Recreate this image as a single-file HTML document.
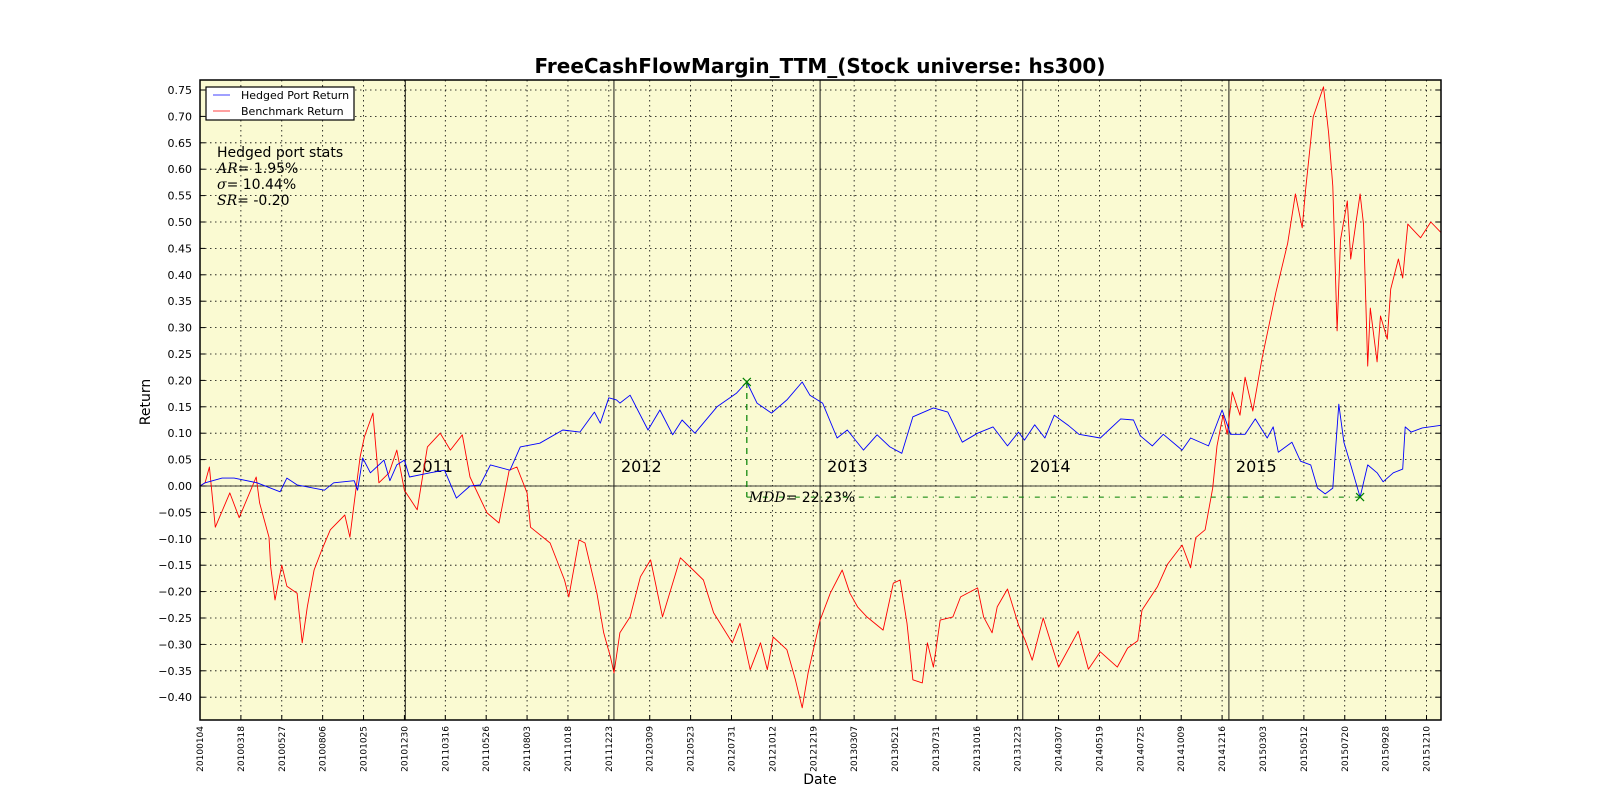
<!DOCTYPE html>
<html><head><meta charset="utf-8"><style>
html,body{margin:0;padding:0;background:#fff;}
svg{display:block;font-family:"DejaVu Sans","Liberation Sans",sans-serif;}
</style></head><body>
<svg id="chart" width="1600" height="800" viewBox="0 0 1600 800" xmlns="http://www.w3.org/2000/svg">
<rect x="0" y="0" width="1600" height="800" fill="#fff"/>
<rect x="200" y="80" width="1241" height="640" fill="#fafad2"/>
<g id="grid"></g>
<g id="yearlines"></g>
<g id="series"></g>
<g id="mdd"></g>
<rect x="200" y="80" width="1241" height="640" fill="none" stroke="#000" stroke-width="1.5"/>
<g id="ticks"></g>
<text x="820" y="73" text-anchor="middle" font-size="20" font-weight="bold">FreeCashFlowMargin_TTM_(Stock universe: hs300)</text>
<text transform="translate(150,402) rotate(-90)" text-anchor="middle" font-size="14">Return</text>
<text x="820" y="784" text-anchor="middle" font-size="14">Date</text>
<g>
<rect x="206" y="87" width="148" height="33" fill="#fff" stroke="#000" stroke-width="1.2"/>
<line x1="213" y1="95" x2="230" y2="95" stroke="#0000ff" stroke-width="0.8"/>
<text x="241" y="99" font-size="11">Hedged Port Return</text>
<line x1="213" y1="111" x2="230" y2="111" stroke="#ff0000" stroke-width="0.8"/>
<text x="241" y="115" font-size="11">Benchmark Return</text>
</g>
<g font-size="14">
<text x="217" y="157">Hedged port stats</text>
<text x="217" y="173"><tspan font-family="DejaVu Serif,serif" font-style="italic">AR</tspan><tspan font-family="DejaVu Serif,serif">= </tspan> 1.95%</text>
<text x="217" y="189"><tspan font-family="DejaVu Serif,serif" font-style="italic">σ</tspan><tspan font-family="DejaVu Serif,serif">= </tspan>10.44%</text>
<text x="217" y="205"><tspan font-family="DejaVu Serif,serif" font-style="italic">SR</tspan><tspan font-family="DejaVu Serif,serif">= </tspan>-0.20</text>
</g>
</svg>
<script>
const tickDates=["20100104","20100318","20100527","20100806","20101025","20101230","20110316","20110526","20110803","20111018","20111223","20120309","20120523","20120731","20121012","20121219","20130307","20130521","20130731","20131016","20131223","20140307","20140519","20140725","20141009","20141216","20150303","20150512","20150720","20150928","20151210"];
const yTicks=[-0.40,-0.35,-0.30,-0.25,-0.20,-0.15,-0.10,-0.05,0.00,0.05,0.10,0.15,0.20,0.25,0.30,0.35,0.40,0.45,0.50,0.55,0.60,0.65,0.70,0.75];
const yearLabels=["2011","2012","2013","2014","2015"];
const yearDays=[241,486,728,966,1208];
const redDays=[0,6,11,18,35,46,66,70,81,83,88,96,102,114,120,126,134,143,153,170,176,181,188,193,203,210,222,231,240,255,267,282,294,308,317,337,351,363,372,384,388,411,428,433,445,452,466,474,482,486,493,505,517,529,543,564,579,591,603,625,634,646,658,666,673,689,699,707,714,728,740,754,763,772,783,802,814,822,830,837,848,854,861,869,884,893,913,920,930,936,948,961,969,977,990,1008,1031,1043,1057,1077,1089,1101,1106,1124,1136,1153,1163,1169,1180,1189,1194,1201,1206,1212,1221,1227,1236,1247,1263,1277,1286,1294,1298,1307,1319,1325,1330,1335,1339,1347,1351,1362,1366,1371,1374,1382,1386,1394,1398,1407,1412,1418,1422,1433,1445,1457];
const redVals=[0,.006,.036,-.078,-.013,-.06,.017,-.032,-.097,-.153,-.216,-.15,-.19,-.203,-.297,-.229,-.159,-.121,-.083,-.055,-.097,-.032,.055,.093,.138,.006,.025,.068,-.008,-.045,.074,.1,.068,.097,.017,-.051,-.07,.03,.036,-.013,-.078,-.108,-.178,-.21,-.102,-.108,-.203,-.278,-.324,-.354,-.278,-.248,-.172,-.14,-.248,-.136,-.159,-.178,-.24,-.297,-.26,-.348,-.297,-.348,-.286,-.31,-.367,-.42,-.354,-.254,-.203,-.159,-.203,-.229,-.248,-.273,-.184,-.178,-.26,-.367,-.373,-.297,-.343,-.254,-.248,-.21,-.193,-.248,-.278,-.229,-.195,-.263,-.293,-.33,-.25,-.343,-.275,-.347,-.314,-.343,-.307,-.293,-.235,-.191,-.148,-.112,-.155,-.098,-.083,-.004,.076,.134,.098,.178,.134,.206,.142,.242,.366,.46,.553,.489,.561,.699,.756,.669,.568,.294,.466,.54,.43,.553,.496,.227,.337,.235,.322,.278,.373,.43,.394,.496,.489,.47,.50,.48];
const blueDays=[0,6,26,40,67,94,102,114,146,157,181,185,191,200,216,223,231,240,246,270,287,301,317,329,341,364,376,399,426,446,463,470,480,489,493,505,526,540,555,566,581,607,630,642,654,671,689,707,716,731,748,760,779,795,810,824,837,861,878,895,913,931,948,961,968,980,992,1003,1020,1032,1057,1081,1096,1104,1118,1131,1153,1163,1184,1200,1210,1227,1239,1253,1260,1266,1282,1292,1304,1312,1321,1330,1337,1343,1351,1362,1371,1382,1389,1401,1412,1415,1422,1435,1457];
const blueVals=[0,.006,.015,.015,.006,-.011,.015,.002,-.008,.006,.01,-.008,.053,.025,.049,.01,.04,.049,.017,.025,.03,-.023,0,.002,.04,.03,.074,.081,.106,.102,.14,.119,.167,.163,.157,.172,.106,.144,.097,.125,.1,.15,.176,.197,.157,.138,.163,.197,.172,.157,.091,.106,.068,.097,.074,.062,.131,.148,.14,.083,.1,.112,.076,.102,.087,.116,.091,.134,.114,.098,.091,.127,.125,.095,.076,.098,.068,.091,.076,.144,.098,.098,.127,.091,.112,.064,.083,.047,.04,-.004,-.015,-.004,.155,.083,.04,-.021,.04,.025,.008,.025,.032,.112,.102,.11,.115];
const mddPeakDay=642, mddPeakVal=0.197, mddTroughDay=1362, mddTroughVal=-0.021, mddText="22.23%";

const NS="http://www.w3.org/2000/svg";
const L=200,R=1441,T=80,B=720,DAYS=1457;
const xs=d=>L+d*(R-L)/DAYS;
const ys=v=>486-v*528;
function mk(tag,attrs,parent){const e=document.createElementNS(NS,tag);for(const k in attrs)e.setAttribute(k,attrs[k]);parent.appendChild(e);return e;}
const grid=document.getElementById('grid'),ticks=document.getElementById('ticks');
const tickStep=48;
tickDates.forEach((t,i)=>{
  const x=xs(i*tickStep);
  const g=mk('line',{x1:x,y1:T,x2:x,y2:B,stroke:'#000','stroke-width':0.8,'stroke-dasharray':'1.5,3.5'},grid);
  
  
  const tk=mk('line',{x1:x,y1:B,x2:x,y2:B-5,stroke:'#000','stroke-width':1},ticks);
  
  
  const tx=mk('text',{transform:`translate(${x+3},${B+6}) rotate(-90)`,'text-anchor':'end','font-size':9},ticks);
  tx.textContent=t;
  
  
});
yTicks.forEach(v=>{
  const y=ys(v);
  const g=mk('line',{x1:L,y1:y,x2:R,y2:y,stroke:'#000','stroke-width':0.8,'stroke-dasharray':'1.5,3.5'},grid);
  
  
  const t1=mk('line',{x1:L,y1:y,x2:L+5,y2:y,stroke:'#000'},ticks);
  
  
  const t2=mk('line',{x1:R,y1:y,x2:R-5,y2:y,stroke:'#000'},ticks);
  
  
  const tx=mk('text',{x:L-8,y:y+4,'text-anchor':'end','font-size':11},ticks);
  tx.textContent=(v<0?'\u2212':'')+Math.abs(v).toFixed(2);
  
  
});
const zl=mk('line',{x1:L,y1:ys(0),x2:R,y2:ys(0),stroke:'#000','stroke-width':0.8},grid);


const yl=document.getElementById('yearlines');
yearDays.forEach((d,i)=>{
  const x=xs(d);
  const ln=mk('line',{x1:x,y1:T,x2:x,y2:B,stroke:'#000','stroke-width':0.9},yl);
  
  
  const t=mk('text',{x:x+7,y:ys(0)-14,'font-size':16},yl);
  t.textContent=yearLabels[i];
  
  
});
const ser=document.getElementById('series');
function line(days,vals,color,name){
  const p=mk('polyline',{points:days.map((d,i)=>xs(d).toFixed(1)+','+ys(vals[i]).toFixed(1)).join(' '),fill:'none',stroke:color,'stroke-width':0.9,'stroke-linejoin':'round'},ser);
  
  
}
line(redDays,redVals,'#ff0000','benchmark-return-line');
line(blueDays,blueVals,'#0000ff','hedged-port-return-line');
const md=document.getElementById('mdd');
const px=xs(mddPeakDay),py=ys(mddPeakVal),tx2=xs(mddTroughDay),ty=ys(mddTroughVal);
const v1=mk('line',{x1:px,y1:py,x2:px,y2:ty,stroke:'#008000','stroke-width':1.2,'stroke-dasharray':'6,5'},md);


const h1=mk('line',{x1:px,y1:ty,x2:tx2,y2:ty,stroke:'#008000','stroke-width':1,'stroke-dasharray':'5,5,1,5'},md);


[[px,py],[tx2,ty]].forEach(([x,y])=>{
  const m=mk('path',{d:`M${x-4},${y-4}L${x+4},${y+4}M${x-4},${y+4}L${x+4},${y-4}`,stroke:'#008000','stroke-width':1.2},md);
  
  
});
const mt=mk('text',{x:px+2,y:ty+5,'font-size':14},md);
mt.innerHTML='<tspan font-family="DejaVu Serif,serif" font-style="italic">MDD</tspan><tspan font-family="DejaVu Serif,serif">= </tspan>'+mddText;


</script>
</body></html>
